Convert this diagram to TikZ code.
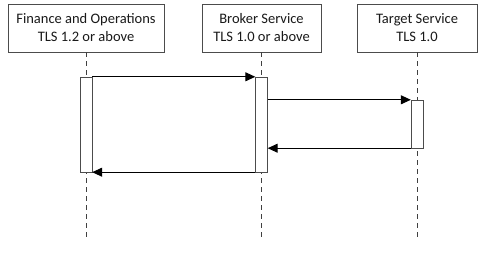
\documentclass[tikz,border=0pt]{standalone}
\usepackage{fontspec}
\setmainfont{Carlito}
\usetikzlibrary{arrows.meta}
\begin{document}
\begin{tikzpicture}[x=1pt,y=-1pt]
            \tikzset{
                party/.style={draw=black!70, fill=white, minimum width=#1, minimum height=48pt, inner sep=0pt, align=center, text=black!90, font=\fontsize{14.5}{18}\selectfont},
                bar/.style={draw=black!70, fill=white, minimum width=12pt, minimum height=#1, inner sep=0pt},
                life/.style={draw=black!75, line width=1pt, dash pattern=on 5pt off 4pt},
                msg/.style={-{Triangle[length=10pt,width=9pt]}, line width=1pt}
            }
            \useasboundingbox (0,0) rectangle (486,256);

            \draw node[party=156pt] (fo) at (86,28) {Finance and Operations\\TLS 1.2 or above};
            \draw node[party=119pt] (bs) at (261.5,28) {Broker Service\\TLS 1.0 or above};
            \draw node[party=120pt] (ts) at (417,28) {Target Service\\TLS 1.0};
            \coordinate (foend) at (86,240);
            \coordinate (bsend) at (261.5,240);
            \coordinate (tsend) at (417,240);
            \foreach \x/\y in {%
                fo/foend, bs/bsend, ts/tsend%
            }{
            \draw[life] (\x) -- (\y);
            }

            \draw node[bar=95pt] (fobar) at (86,124.5) {};
            \draw node[bar=95pt] (bsbar) at (261.5,124.5) {};
            \draw node[bar=48pt] (tsbar) at (417,124) {};

            \draw[msg] (fobar.north east) -- (bsbar.north west);
            \draw[msg] (bsbar.east |- tsbar.north) -- (tsbar.north west);
            \draw[msg] (tsbar.south west) -- (bsbar.east |- tsbar.south);
            \draw[msg] (bsbar.south west) -- (fobar.south east);
        \end{tikzpicture}
\end{document}
